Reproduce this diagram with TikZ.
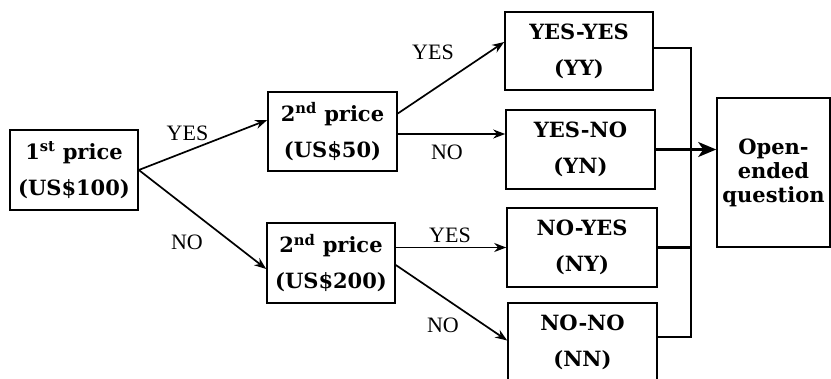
\documentclass[tikz,border=0pt]{standalone}
\usepackage{fontspec}
\setmainfont{Liberation Serif}
\newfontfamily\boxfont{DejaVu Serif}
\usetikzlibrary{arrows.meta}
\begin{document}
\begin{tikzpicture}[x=1pt,y=-1pt,
  box/.style={draw, line width=1.6pt, inner sep=0pt, align=center,
    font=\boxfont\bfseries\fontsize{21}{36}\selectfont},
  lbl/.style={inner sep=0pt, font=\fontsize{22}{24}\selectfont},
  arr/.style={line width=1.7pt, -{Stealth[length=12pt,width=9pt]}},
  bigarr/.style={line width=2.2pt, -{Stealth[length=18pt,width=15pt,inset=5pt]}},
  bus/.style={line width=2.2pt}]
\useasboundingbox (0,0) rectangle (831,378);
\clip (0,0) rectangle (831,378);
\fill[white] (0,0) rectangle (831,378);
% boxes
\node[box, minimum width=128pt, minimum height=80pt] (p1) at (74,170) {1\textsuperscript{st} price\\(US\$100)};
\node[box, minimum width=129pt, minimum height=79pt] (p2) at (332.5,131.5) {2\textsuperscript{nd} price\\(US\$50)};
\node[box, minimum width=128pt, minimum height=80pt] (p3) at (331,263) {2\textsuperscript{nd} price\\(US\$200)};
\node[box, minimum width=148pt, minimum height=78pt] (yy) at (579,51) {YES-YES\\(YY)};
\node[box, minimum width=149pt, minimum height=79pt] (yn) at (580.5,149.5) {YES-NO\\(YN)};
\node[box, minimum width=150pt, minimum height=79pt] (ny) at (582,247.5) {NO-YES\\(NY)};
\node[box, minimum width=149pt, minimum height=79pt] (nn) at (582.5,342.5) {NO-NO\\(NN)};
\node[box, minimum width=113pt, minimum height=149pt,
  font=\boxfont\bfseries\fontsize{21}{24}\selectfont] (oe) at (773.5,172.5) {Open-\\ended\\question};
% arrows from first price
\draw[arr] (p1.east) -- ([yshift=11.5pt]p2.west);
\draw[arr] (p1.east) -- ([yshift=-6pt]p3.west);
% arrows from second prices
\draw[arr] ([yshift=18pt]p2.east) -- ([yshift=9pt]yy.west);
\draw[arr] ([yshift=-2.5pt]p2.east) -- ([yshift=-2.5pt]p2.east -| yn.west);
\draw[arr] (p3.east |- ny.west) -- (ny.west);
\draw[arr] ([yshift=-2pt]p3.east) -- ([yshift=2pt]nn.west);
% bus
\coordinate (bt) at (691,48);
\coordinate (bb) at (691,337);
\draw[bus] (yy.east |- bt) -- (bt) -- (bb) -- (nn.east |- bb);
\draw[bus] (ny.east) -- (ny.east -| bt);
\draw[bigarr] (yn.east) -- (oe.west |- yn.east);
% labels
\node[lbl] (l1) at (187.5,133) {YES};
\node[lbl] (l2) at (187,242) {NO};
\node[lbl] (l3) at (433,52) {YES};
\node[lbl] (l4) at (447,152) {NO};
\node[lbl] (l5) at (450,235) {YES};
\node[lbl] (l6) at (443,325) {NO};
\end{tikzpicture}
\end{document}
